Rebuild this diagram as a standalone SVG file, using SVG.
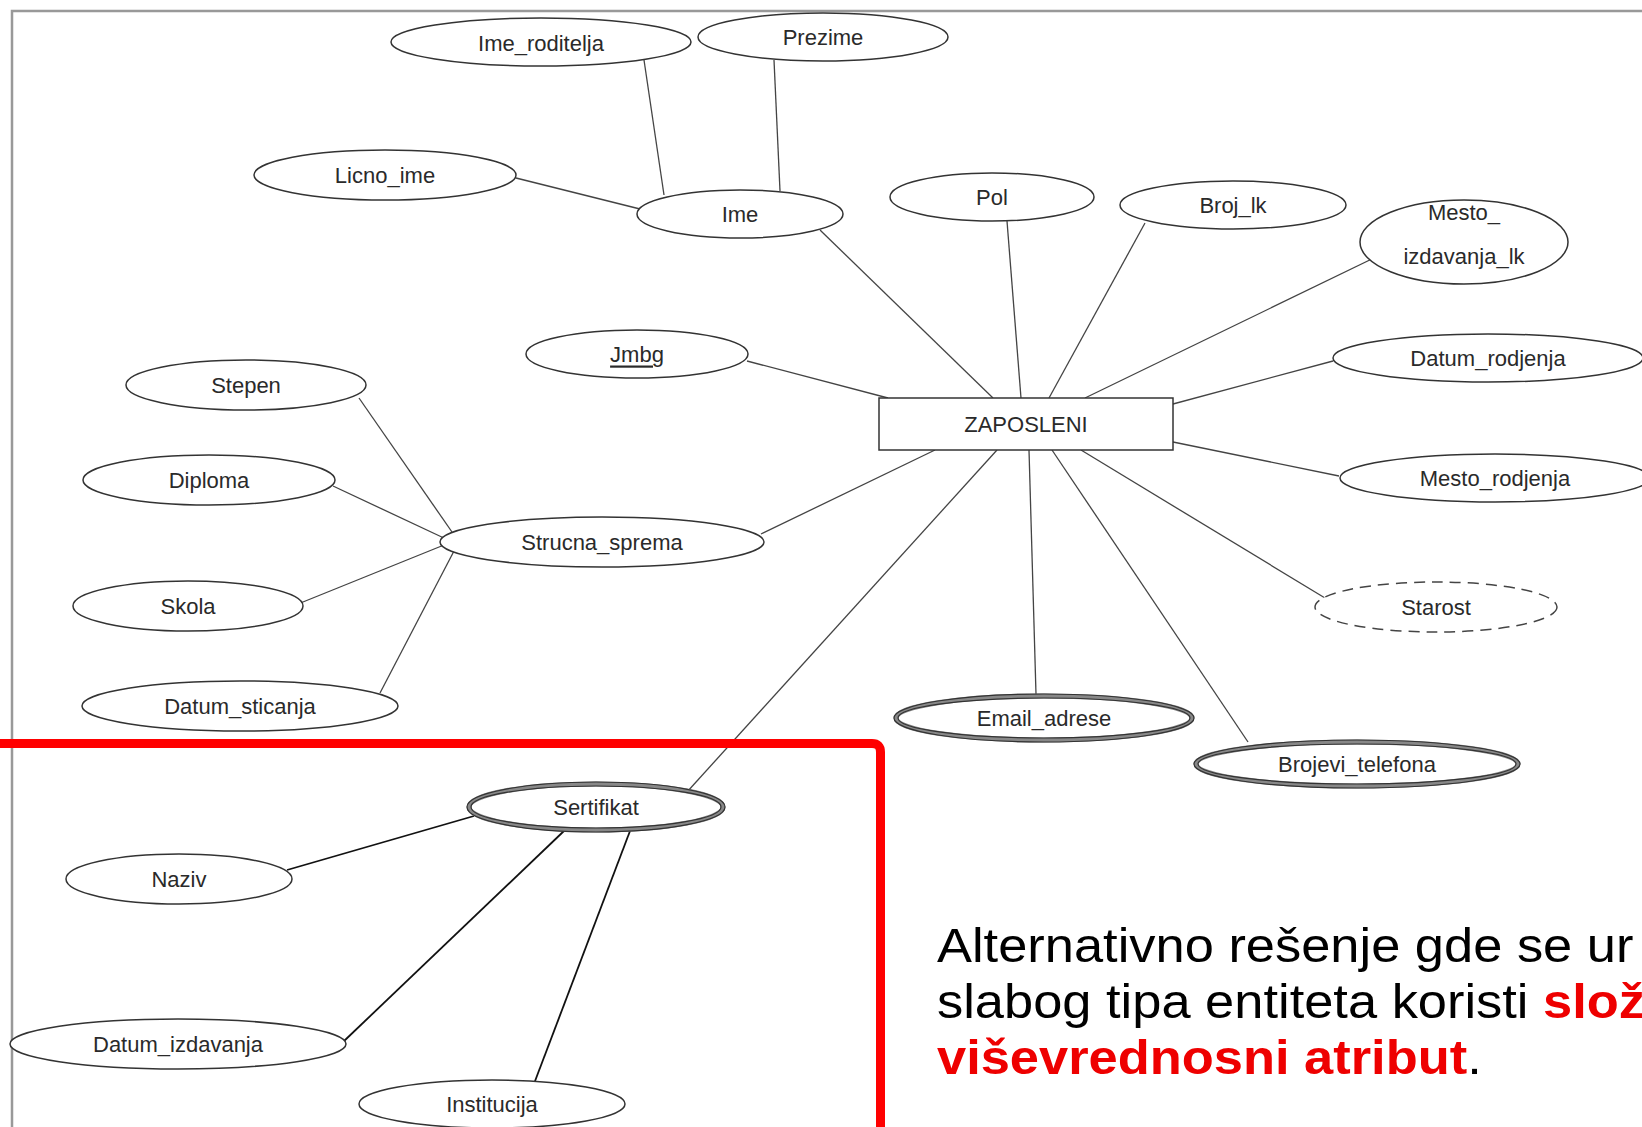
<svg xmlns="http://www.w3.org/2000/svg" width="1642" height="1127" viewBox="0 0 1642 1127">
<style>
.a{fill:#fff;stroke:#333;stroke-width:1.5}
.d{fill:#fff;stroke:#444;stroke-width:1.5;stroke-dasharray:11 7}
.m1{fill:#fff;stroke:#888;stroke-width:5}
.m2{fill:none;stroke:#333;stroke-width:1.2}
.t{font-family:"Liberation Sans",Arial,sans-serif;font-size:22px;fill:#2a2a2a;text-anchor:middle;dominant-baseline:central}
.c line{stroke:#444;stroke-width:1.3}
.c .k{stroke:#111;stroke-width:1.8}
.s{font-family:"Liberation Sans",Arial,sans-serif;font-size:49px;fill:#000}
.r{fill:#e00;font-weight:bold}
</style>
<rect width="1642" height="1127" fill="#fff"/>
<path d="M12,1127 V11 H1642" fill="none" stroke="#999" stroke-width="2.5"/>
<g class="c">
<line x1="644" y1="60" x2="664" y2="195"/>
<line x1="774" y1="60" x2="780" y2="191"/>
<line x1="516" y1="178" x2="640" y2="209"/>
<line x1="820" y1="230" x2="993" y2="398"/>
<line x1="1007" y1="221" x2="1021" y2="398"/>
<line x1="1145" y1="223" x2="1049" y2="398"/>
<line x1="1378" y1="256" x2="1085" y2="398"/>
<line x1="747" y1="361" x2="888" y2="398"/>
<line x1="1333" y1="361" x2="1173" y2="404"/>
<line x1="1339" y1="476" x2="1173" y2="442"/>
<line x1="935" y1="450" x2="761" y2="534"/>
<line x1="997" y1="450" x2="687" y2="792"/>
<line x1="1029" y1="450" x2="1036" y2="694"/>
<line x1="1052" y1="450" x2="1248" y2="742"/>
<line x1="1081" y1="450" x2="1325" y2="598"/>
<line x1="359" y1="398" x2="452" y2="532"/>
<line x1="333" y1="486" x2="446" y2="539"/>
<line x1="298" y1="604" x2="444" y2="545"/>
<line x1="380" y1="693" x2="454" y2="551"/>
<line class="k" x1="474" y1="816" x2="287" y2="870"/>
<line class="k" x1="565" y1="830" x2="343" y2="1042"/>
<line class="k" x1="630" y1="831" x2="532" y2="1089"/>
</g>
<g id="ime_roditelja"><ellipse class="a" cx="541" cy="42" rx="150" ry="24"/><text class="t" x="541" y="43">Ime_roditelja</text></g>
<g id="prezime"><ellipse class="a" cx="823" cy="37" rx="125" ry="24"/><text class="t" x="823" y="37">Prezime</text></g>
<g id="licno_ime"><ellipse class="a" cx="385" cy="175" rx="131" ry="25"/><text class="t" x="385" y="175">Licno_ime</text></g>
<g id="ime"><ellipse class="a" cx="740" cy="214" rx="103" ry="24"/><text class="t" x="740" y="214">Ime</text></g>
<g id="pol"><ellipse class="a" cx="992" cy="197" rx="102" ry="24"/><text class="t" x="992" y="197">Pol</text></g>
<g id="broj_lk"><ellipse class="a" cx="1233" cy="205" rx="113" ry="24"/><text class="t" x="1233" y="205">Broj_lk</text></g>
<g id="mesto_izdavanja_lk"><ellipse class="a" cx="1464" cy="242" rx="104" ry="42"/><text class="t" x="1464" y="212">Mesto_</text><text class="t" x="1464" y="256">izdavanja_lk</text></g>
<g id="jmbg"><ellipse class="a" cx="637" cy="354" rx="111" ry="24"/><text class="t" x="637" y="354" text-decoration="underline">Jmbg</text></g>
<g id="stepen"><ellipse class="a" cx="246" cy="385" rx="120" ry="25"/><text class="t" x="246" y="385">Stepen</text></g>
<g id="datum_rodjenja"><ellipse class="a" cx="1488" cy="358" rx="155" ry="24"/><text class="t" x="1488" y="358">Datum_rodjenja</text></g>
<g id="zaposleni"><rect class="a" x="879" y="398" width="294" height="52"/><text class="t" x="1026" y="424">ZAPOSLENI</text></g>
<g id="diploma"><ellipse class="a" cx="209" cy="480" rx="126" ry="25"/><text class="t" x="209" y="480">Diploma</text></g>
<g id="mesto_rodjenja"><ellipse class="a" cx="1495" cy="478" rx="155" ry="24"/><text class="t" x="1495" y="478">Mesto_rodjenja</text></g>
<g id="strucna_sprema"><ellipse class="a" cx="602" cy="542" rx="162" ry="25"/><text class="t" x="602" y="542">Strucna_sprema</text></g>
<g id="skola"><ellipse class="a" cx="188" cy="606" rx="115" ry="25"/><text class="t" x="188" y="606">Skola</text></g>
<g id="starost"><ellipse class="d" cx="1436" cy="607" rx="121" ry="25"/><text class="t" x="1436" y="607">Starost</text></g>
<g id="datum_sticanja"><ellipse class="a" cx="240" cy="706" rx="158" ry="25"/><text class="t" x="240" y="706">Datum_sticanja</text></g>
<g id="email_adrese"><ellipse class="m1" cx="1044" cy="718" rx="148" ry="22"/><ellipse class="m2" cx="1044" cy="718" rx="150" ry="24"/><ellipse class="m2" cx="1044" cy="718" rx="146" ry="20"/><text class="t" x="1044" y="718">Email_adrese</text></g>
<g id="brojevi_telefona"><ellipse class="m1" cx="1357" cy="764" rx="161" ry="22"/><ellipse class="m2" cx="1357" cy="764" rx="163" ry="24"/><ellipse class="m2" cx="1357" cy="764" rx="159" ry="20"/><text class="t" x="1357" y="764">Brojevi_telefona</text></g>
<g id="sertifikat"><ellipse class="m1" cx="596" cy="807" rx="127" ry="23"/><ellipse class="m2" cx="596" cy="807" rx="129" ry="25"/><ellipse class="m2" cx="596" cy="807" rx="125" ry="21"/><text class="t" x="596" y="807">Sertifikat</text></g>
<g id="naziv"><ellipse class="a" cx="179" cy="879" rx="113" ry="25"/><text class="t" x="179" y="879">Naziv</text></g>
<g id="datum_izdavanja"><ellipse class="a" cx="178" cy="1044" rx="168" ry="25"/><text class="t" x="178" y="1044">Datum_izdavanja</text></g>
<g id="institucija"><ellipse class="a" cx="492" cy="1104" rx="133" ry="24"/><text class="t" x="492" y="1104">Institucija</text></g>
<path d="M0,743.5 H872 Q880.5,743.5 880.5,752 V1130" fill="none" stroke="#f00" stroke-width="9"/>
<g transform="matrix(1.07,0,0,1,-65.59,0)">
<text class="s" x="937" y="962">Alternativno rešenje gde se ur</text>
<text class="s" x="937" y="1018">slabog tipa entiteta koristi <tspan class="r">slož</tspan></text>
<text class="s" x="937" y="1074"><tspan class="r">viševrednosni atribut</tspan>.</text>
</g>
</svg>
